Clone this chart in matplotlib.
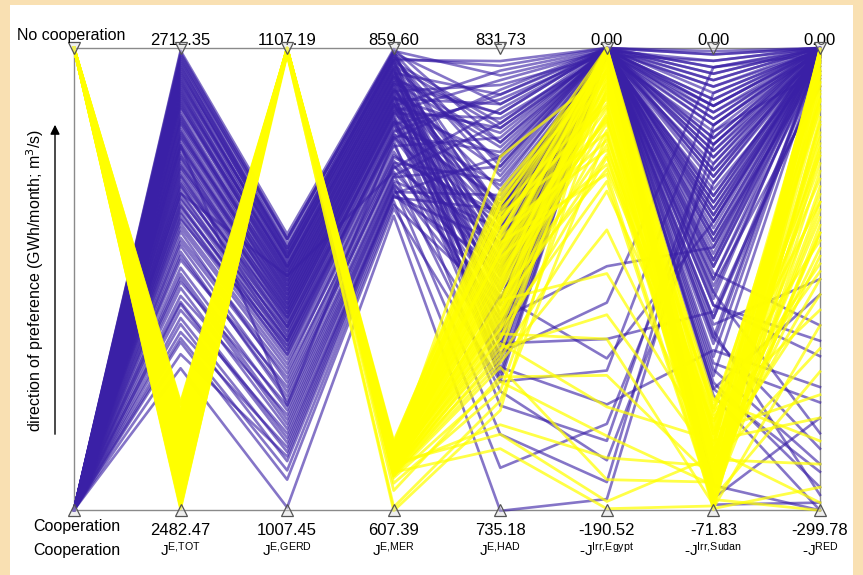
import numpy as np
import matplotlib
matplotlib.use("Agg")
import matplotlib.pyplot as plt
import matplotlib.transforms as mtransforms
from matplotlib.patches import Rectangle

plt.rcParams['font.family'] = ['Liberation Sans', 'DejaVu Sans']

# objective ranges (top = no cooperation end, bottom = cooperation end)
top_vals = [2712.35, 1107.19, 859.60, 831.73, 0.00, 0.00, 0.00]
bottom_vals = [2482.47, 1007.45, 607.39, 735.18, -190.52, -71.83, -299.78]
obj_labels = [r'$\mathregular{J^{E{,}TOT}}$', r'$\mathregular{J^{E{,}GERD}}$',
              r'$\mathregular{J^{E{,}MER}}$', r'$\mathregular{J^{E{,}HAD}}$',
              r'-$\mathregular{J^{Irr{,}Egypt}}$', r'-$\mathregular{J^{Irr{,}Sudan}}$',
              r'-$\mathregular{J^{RED}}$']

# cooperation solutions (blue)
coop_tot = [2711, 2709, 2707, 2706, 2704, 2702, 2700, 2698, 2696, 2694,
            2692, 2690, 2688, 2686, 2684, 2682, 2679, 2677, 2675, 2672,
            2670, 2668, 2665, 2663, 2660, 2658, 2655, 2653, 2650, 2648,
            2645, 2643, 2640, 2638, 2635, 2633, 2631, 2628, 2625, 2621,
            2618, 2614, 2611, 2607, 2603, 2600, 2596, 2593, 2589, 2585,
            2582, 2578, 2575, 2571, 2568, 2566, 2560, 2553, 2664, 2640,
            2710, 2708, 2705, 2703, 2701, 2699, 2697, 2695, 2693, 2691,
            2689, 2687, 2685, 2683, 2680, 2678, 2676, 2674, 2671, 2669,
            2667, 2664, 2662, 2659, 2657, 2654, 2652, 2649, 2646, 2644,
            2641, 2637, 2634, 2630, 2627, 2623, 2616, 2609, 2598, 2586]
coop_gerd = [1067, 1066, 1064, 1066, 1063, 1062, 1064, 1061, 1060, 1062,
             1059, 1058, 1060, 1057, 1056, 1058, 1055, 1054, 1056, 1053,
             1052, 1054, 1051, 1050, 1052, 1049, 1048, 1050, 1047, 1046,
             1045, 1047, 1044, 1043, 1042, 1044, 1041, 1040, 1039, 1035,
             1037, 1033, 1031, 1034, 1029, 1027, 1030, 1025, 1028, 1022,
             1024, 1020, 1018, 1021, 1016, 1014, 1019, 1008, 1030, 1058,
             1066, 1065, 1063, 1064, 1062, 1063, 1061, 1062, 1060, 1059,
             1060, 1058, 1057, 1059, 1056, 1055, 1057, 1054, 1053, 1055,
             1052, 1051, 1053, 1050, 1049, 1051, 1048, 1047, 1049, 1045,
             1044, 1046, 1042, 1041, 1043, 1038, 1036, 1032, 1026, 1023]
coop_mer = [859, 858, 856, 857, 854, 852, 853, 850, 848, 849,
            846, 844, 845, 842, 840, 841, 838, 836, 837, 834,
            832, 833, 830, 828, 829, 826, 824, 825, 822, 820,
            818, 819, 815, 812, 809, 811, 806, 803, 800, 797,
            798, 794, 791, 795, 789, 786, 790, 784, 787, 781,
            783, 779, 776, 780, 774, 772, 778, 768, 810, 792,
            858, 857, 855, 856, 853, 854, 851, 852, 849, 847,
            848, 845, 843, 844, 841, 839, 840, 837, 835, 836,
            833, 831, 832, 829, 827, 828, 825, 823, 824, 821,
            817, 819, 814, 811, 813, 807, 801, 796, 785, 779]
coop_had = [812, 826, 798, 820, 805, 790, 829, 815, 784, 808,
            822, 795, 776, 818, 802, 811, 787, 824, 799, 770,
            814, 806, 793, 827, 781, 809, 817, 796, 765, 803,
            821, 788, 800, 810, 757, 792, 813, 779, 797, 804,
            785, 819, 760, 791, 807, 775, 816, 751, 794, 801,
            768, 786, 744, 809, 778, 762, 798, 735, 823, 783,
            785, 807, 772, 795, 766, 828, 779, 816, 762, 790,
            774, 798, 782, 812, 769, 789, 818, 776, 764, 797,
            781, 771, 820, 787, 815, 767, 825, 778, 799, 773,
            794, 763, 822, 784, 786, 770, 796, 775, 780, 791]
coop_egypt = [0, -1, -2, 0, -0.5, -3, 0, -1.5, -2, 0,
              -1, -4, -0.5, 0, -2.5, -1, 0, -3, -0.5, -120,
              -1, 0, -2, -0.5, -1.5, 0, -3, -1, -147, 0,
              -2, -0.5, -1, 0, -162, -2.5, 0, -1, -0.5, -2,
              0, -1, -170, -3, 0, -90, -1.5, -179, 0, -2,
              -105, -0.5, -155, -1, 0, -133, -2, -186, 0, -1,
              0, -1, 0, -0.5, -2, 0, -1, 0, -1.5, 0,
              -0.5, 0, -1, -2, 0, -0.5, 0, -1, 0, -3,
              0, -1, -0.5, 0, -2, 0, -1, 0, -0.5, -1.5,
              0, -2, 0, -1, 0, -0.5, -1, 0, -128, -2]
coop_sudan = [-3, -12, -25, -7, -38, -18, -1, -30, -9, -44,
              -15, -22, -5, -35, -27, -11, -50, -2, -19, -41,
              -8, -32, -14, -54, -24, -4, -36, -17, -47, -10,
              -28, -6, -40, -20, -13, -52, -33, -16, -26, -71,
              -0.5, -45, -21, -37, -9, -31, -70, -12, -48, -23,
              -3, -42, -18, -29, -68, -7, -34, -15, -53, -26,
              -5, -20, -34, -9, -46, -15, -2, -27, -39, -11,
              -23, -51, -6, -31, -17, -43, -1, -25, -36, -13,
              -49, -8, -29, -19, -42, -4, -33, -53, -14, -24,
              -38, -10, -45, -21, -3, -30, -16, -40, -27, -12]
coop_red = [0, -2, -5, -1, -250, -3, 0, -12, -1, -290,
            -4, -8, 0, -180, -2, -1, -270, 0, -6, -20,
            -1, -3, 0, -300, -2, 0, -10, -1, -220, -4,
            0, -2, -200, -1, -15, -285, 0, -5, -1, -295,
            0, -260, -3, -25, -1, -7, -240, 0, -2, -1,
            -4, -18, 0, -2, -300, -1, -6, -0.5, -160, -3,
            0, -1, -3, 0, -2, -0.5, 0, -4, -1, 0,
            -2, -6, 0, -1, -3, -150, 0, -0.5, -2, -1,
            -230, 0, -3, -1, -9, 0, -2, -275, -1, 0,
            -5, -0.5, -2, 0, -1, -3, 0, -190, -1, -2]

# no-cooperation solutions (yellow)
nocoop_tot = [2483, 2485, 2487, 2489, 2491, 2492, 2494, 2496, 2498, 2500,
              2501, 2503, 2505, 2507, 2508, 2510, 2512, 2514, 2515, 2517,
              2519, 2521, 2522, 2524, 2526, 2528, 2529, 2531, 2533, 2535,
              2536, 2484, 2488, 2493, 2497, 2502, 2506, 2511, 2516, 2520,
              2525, 2530, 2486, 2499, 2509, 2518, 2527, 2490,
              2495, 2504, 2513, 2523, 2532, 2487, 2509, 2519, 2500, 2527,
              2491, 2514, 2535, 2498, 2506, 2521, 2484, 2511, 2529, 2493,
              2517, 2503, 2525, 2489]
nocoop_gerd = [1107.1, 1106.8, 1107.0, 1106.5, 1106.9, 1107.2, 1106.7, 1106.3, 1107.0, 1106.6,
               1106.9, 1106.2, 1107.1, 1106.8, 1106.4, 1107.0, 1106.6, 1106.9, 1106.1, 1107.2,
               1106.7, 1106.5, 1107.0, 1106.8, 1106.3, 1106.9, 1107.1, 1106.6, 1106.0, 1106.8,
               1107.0, 1106.4, 1106.7, 1107.2, 1106.5, 1106.9, 1106.2, 1107.1, 1106.6, 1106.8,
               1106.0, 1107.0, 1105.8, 1105.9, 1106.3, 1107.1, 1106.7, 1106.9,
               1107.0, 1106.6, 1106.9, 1106.4, 1107.1, 1106.8, 1106.5, 1107.0, 1106.7, 1106.3,
               1106.9, 1107.2, 1106.6, 1106.8, 1107.0, 1106.5, 1106.9, 1106.2, 1107.1, 1106.7,
               1106.4, 1106.8, 1107.0, 1106.6]
nocoop_mer = [645, 643, 641, 640, 638, 644, 636, 635, 642, 633,
              639, 631, 637, 630, 634, 629, 632, 628, 640, 627,
              636, 638, 633, 631, 643, 629, 635, 641, 626, 632,
              630, 637, 628, 634, 639, 625, 642, 633, 627, 636,
              622, 631, 609, 607, 618, 638, 629, 635,
              640, 634, 637, 631, 643, 628, 636, 639, 632, 630,
              641, 635, 627, 638, 633, 629, 642, 631, 636, 626,
              634, 639, 630, 637]
nocoop_had = [800, 795, 797, 789, 792, 802, 786, 790, 794, 781,
              788, 779, 791, 776, 784, 772, 780, 774, 798, 770,
              783, 787, 751, 775, 801, 767, 782, 793, 765, 777,
              771, 785, 748, 778, 796, 762, 799, 773, 766, 789,
              760, 753, 758, 756, 763, 809, 769, 785,
              795, 783, 790, 779, 799, 773, 788, 793, 781, 776,
              796, 786, 771, 791, 782, 775, 797, 778, 787, 768,
              784, 792, 777, 789]
nocoop_egypt = [0, -12, -3, -25, -38, -6, -18, 0, -42, -9,
                -2, -93, -30, -1, -15, -120, -50, -4, -21, -148,
                -8, 0, -187, -34, -11, -59, -27, -0.5, -178, -5,
                -45, -14, -190, 0, -24, -160, -7, -55, -75, -2,
                -17, -169, -36, -1, -135, -10, -110, -29,
                0, -20, -6, -40, -3, -13, -48, -1, -31, -9,
                -23, -4, -16, -52, -0.5, -11, -35, -2, -19, -7,
                -28, -0.5, -44, -3]
nocoop_sudan = [-71, -69, -66, -63, -70, -60, -68, -65, -57, -71.5,
                -67, -62, -55, -69.5, -64, -71, -59, -66.5, -70.5, -61,
                -68.5, -56, -63.5, -71.8, -65.5, -58, -69, -62.5, -67.5, -70,
                -60.5, -64.5, -71.2, -57.5, -66, -68, -54.6, -70.8, -63, -59.5,
                -69.2, -65, -61.5, -71.6, -67, -56.5, -64, -70.2,
                -70, -66, -62, -68, -64, -71, -58, -67, -69, -63,
                -71.5, -65, -60, -70.5, -67.5, -61, -69.5, -64, -56, -71,
                -66.5, -59, -68, -63]
nocoop_red = [-4, -38, -110, -12, -210, -70, -1, -150, -20, -180,
              -55, -3, -125, -90, -270, -28, -7, -135, -62, -240,
              -15, -100, -160, -45, -0.5, -145, -80, -295, -33, -115,
              -10, -195, -68, -140, -23, -120, -255, -2, -95, -225,
              -50, -130, -17, -285, -105, -170, -35, -300,
              -6, -25, -2, -48, -14, -1, -85, -30, -5, -65,
              -18, -9, -40, -0.5, -100, -16, -3, -58, -34, -8,
              -120, -22, -4, -75]

coop = np.array([coop_tot, coop_gerd, coop_mer, coop_had, coop_egypt, coop_sudan, coop_red], float)
nocoop = np.array([nocoop_tot, nocoop_gerd, nocoop_mer, nocoop_had, nocoop_egypt, nocoop_sudan, nocoop_red], float)

lo = np.array(bottom_vals)[:, None]
hi = np.array(top_vals)[:, None]
coop_n = (coop - lo) / (hi - lo)
nocoop_n = (nocoop - lo) / (hi - lo)

W, H = 863, 575
fig = plt.figure(figsize=(W / 100, H / 100), dpi=100, facecolor='#f9e0b2')
fig.patches.append(Rectangle((10 / W, 0), 843 / W, 1 - 5 / H, transform=fig.transFigure,
                             facecolor='white', edgecolor='none', zorder=-10))

ax = fig.add_axes([74 / W, 65 / H, 746 / W, 462 / H])
ax.set_facecolor('none')
xs = np.arange(8)

blue = '#3a20a6'
yellow = '#ffff00'
for k in range(coop_n.shape[1]):
    ax.plot(xs, np.r_[0.0, coop_n[:, k]], color=blue, lw=1.9, alpha=0.62, clip_on=False, zorder=2)
for k in range(nocoop_n.shape[1]):
    ax.plot(xs, np.r_[1.0, nocoop_n[:, k]], color=yellow, lw=2.0, alpha=0.72, clip_on=False, zorder=3)

# axis end markers
ax.plot(xs, np.ones(8), 'v', ms=8, mfc=(0.85, 0.85, 0.85, 0.4), mec='#555555', mew=0.9,
        clip_on=False, zorder=5)
ax.plot(xs, np.zeros(8), '^', ms=8, mfc=(0.85, 0.85, 0.85, 0.4), mec='#555555', mew=0.9,
        clip_on=False, zorder=5)

ax.set_xlim(0, 7)
ax.set_ylim(0, 1)
ax.set_xticks([])
ax.set_yticks([])
for sp in ax.spines.values():
    sp.set_color('#8a8a8a')
    sp.set_linewidth(1.0)
    sp.set_zorder(1)

trans = mtransforms.blended_transform_factory(ax.transData, fig.transFigure)
fy = lambda py: 1 - py / H
for i in range(7):
    ax.text(i + 1, fy(45), f'{top_vals[i]:.2f}', transform=trans, ha='center', va='baseline', fontsize=12)
    ax.text(i + 1, fy(535), f'{bottom_vals[i]:.2f}', transform=trans, ha='center', va='baseline', fontsize=12)
    ax.text(i + 1, fy(556), obj_labels[i], transform=trans, ha='center', va='baseline', fontsize=11)

fig.text(17 / W, fy(40), 'No cooperation', ha='left', va='baseline', fontsize=11.5)
fig.text(33 / W, fy(531), 'Cooperation', ha='left', va='baseline', fontsize=11.5)
fig.text(33 / W, fy(555), 'Cooperation', ha='left', va='baseline', fontsize=11.5)

fig.text(35 / W, fy(280), 'direction of preference (GWh/month; m$^3$/s)', rotation=90,
         ha='center', va='center', fontsize=11.5)
ax.annotate('', xy=(55 / W, fy(122)), xytext=(55 / W, fy(437)), xycoords='figure fraction',
            textcoords='figure fraction',
            arrowprops=dict(arrowstyle='-|>', color='black', lw=1.0, mutation_scale=14))

fig.savefig('out.png', dpi=100, facecolor=fig.get_facecolor())
